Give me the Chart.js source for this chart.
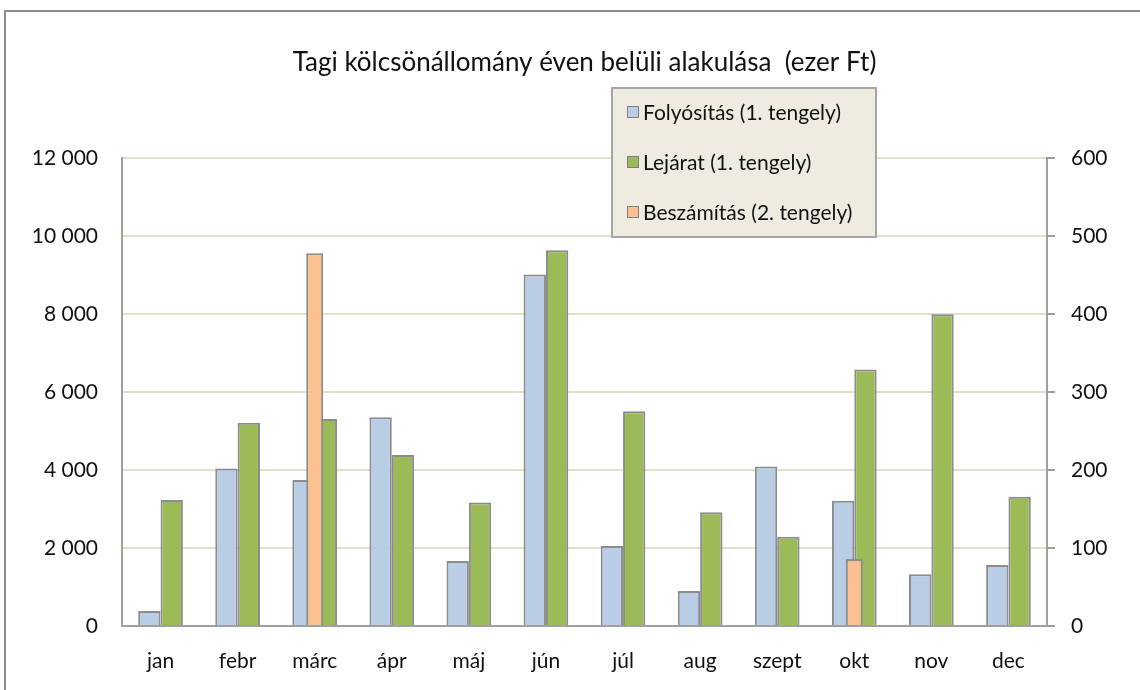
<!DOCTYPE html>
<html>
<head>
<meta charset="utf-8">
<script src="https://cdn.jsdelivr.net/npm/chart.js@4.4.1/dist/chart.umd.min.js"></script>
<style>
  html, body { margin: 0; padding: 0; background: #fff; overflow: hidden; }
  #wrap { position: relative; width: 1140px; height: 690px; }
  #frame { position: absolute; left: 4px; top: 10px; width: 1200px; height: 720px; border: 2px solid #8c8c8c; box-sizing: border-box; pointer-events: none; }
</style>
</head>
<body>
<div id="wrap">
  <canvas id="chart"></canvas>
  <div id="frame"></div>
</div>
<script>
const categories = ["jan", "febr", "márc", "ápr", "máj", "jún", "júl", "aug", "szept", "okt", "nov", "dec"];
const folyositas = [385, 4040, 3745, 5355, 1665, 9015, 2050, 900, 4090, 3215, 1325, 1565];
const lejarat = [3230, 5215, 5310, 4385, 3170, 9640, 5510, 2915, 2290, 6580, 8000, 3315];
const beszamitas = [null, null, 478, null, null, null, null, null, null, 86, null, null];

const seriesNames = ["Folyósítás (1. tengely)", "Lejárat (1. tengely)", "Beszámítás (2. tengely)"];
const leftTicks = [0, 2000, 4000, 6000, 8000, 10000, 12000];
const rightTicks = [0, 100, 200, 300, 400, 500, 600];

const FONT = "Lato";
const textColor = "#111111";
const edgeColor = "#8c8c8c";

function spaced(v) {
  return String(v).replace(/\B(?=(\d{3})+(?!\d))/g, " ");
}

// legend box inside the plot, like the Excel one
const boxLegend = {
  id: "boxLegend",
  afterDraw(chart) {
    const ctx = chart.ctx;
    const x = 612, y = 88, w = 264, h = 149;
    ctx.save();
    ctx.fillStyle = "#eeece1";
    ctx.fillRect(x, y, w, h);
    ctx.strokeStyle = "#a6a6a6";
    ctx.lineWidth = 2;
    ctx.strokeRect(x, y, w, h);
    ctx.font = "21px " + FONT;
    ctx.textBaseline = "middle";
    chart.data.datasets.forEach(function (ds, i) {
      const cy = y + 24 + i * 50;
      ctx.fillStyle = ds.backgroundColor;
      ctx.fillRect(x + 15, cy - 6, 12, 12);
      ctx.strokeStyle = "#808080";
      ctx.lineWidth = 1;
      ctx.strokeRect(x + 15.5, cy - 5.5, 11, 11);
      ctx.fillStyle = textColor;
      ctx.fillText(ds.label, x + 31, cy + 1);
    });
    ctx.restore();
  }
};

const ctx = document.getElementById("chart");

new Chart(ctx, {
  type: "bar",
  data: {
    labels: categories,
    datasets: [
      {
        label: seriesNames[0],
        data: folyositas,
        backgroundColor: "#b9cde5",
        borderColor: edgeColor,
        borderWidth: 2,
        borderSkipped: "start",
        yAxisID: "y",
        order: 1,
        categoryPercentage: 0.58,
        barPercentage: 1,
      },
      {
        label: seriesNames[1],
        data: lejarat,
        backgroundColor: "#9bbb59",
        borderColor: edgeColor,
        borderWidth: 2,
        borderSkipped: "start",
        yAxisID: "y",
        order: 1,
        categoryPercentage: 0.58,
        barPercentage: 1,
      },
      {
        label: seriesNames[2],
        data: beszamitas,
        backgroundColor: "#fac090",
        borderColor: edgeColor,
        borderWidth: 2,
        borderSkipped: "start",
        yAxisID: "y2",
        order: 0,
        grouped: false,
        categoryPercentage: 1,
        barPercentage: 0.22,
      },
    ],
  },
  options: {
    responsive: true,
    maintainAspectRatio: false,
    animation: false,
    layout: { padding: 0 },
    plugins: {
      legend: { display: false },
      tooltip: { enabled: false },
      title: {
        display: true,
        fullSize: false,
        text: "Tagi kölcsönállomány éven belüli alakulása  (ezer Ft)",
        color: textColor,
        font: { family: FONT, size: 26, weight: "normal" },
        padding: { top: 47, bottom: 80 },
      },
    },
    scales: {
      x: {
        grid: { display: false },
        border: { color: "#a0a0a0", width: 2 },
        ticks: { color: textColor, font: { family: FONT, size: 21 }, padding: 15 },
        afterFit(scale) { scale.height = 64; },
      },
      y: {
        position: "left",
        min: leftTicks[0],
        max: leftTicks[leftTicks.length - 1],
        afterBuildTicks(scale) { scale.ticks = leftTicks.map(v => ({ value: v })); },
        grid: { color: "#e2dfca", lineWidth: 2, drawTicks: false },
        border: { color: "#a0a0a0", width: 2 },
        ticks: { color: textColor, font: { family: FONT, size: 21 }, padding: 24, callback: v => spaced(v) },
        afterFit(scale) { scale.width = 122; },
      },
      y2: {
        position: "right",
        min: rightTicks[0],
        max: rightTicks[rightTicks.length - 1],
        afterBuildTicks(scale) { scale.ticks = rightTicks.map(v => ({ value: v })); },
        grid: { drawOnChartArea: false, drawTicks: true, tickLength: 8, color: "#a0a0a0", lineWidth: 2 },
        border: { color: "#a0a0a0", width: 2 },
        ticks: { color: textColor, font: { family: FONT, size: 21 }, padding: 16 },
        afterFit(scale) { scale.width = 93; },
      },
    },
  },
  plugins: [boxLegend],
});
</script>
</body>
</html>
